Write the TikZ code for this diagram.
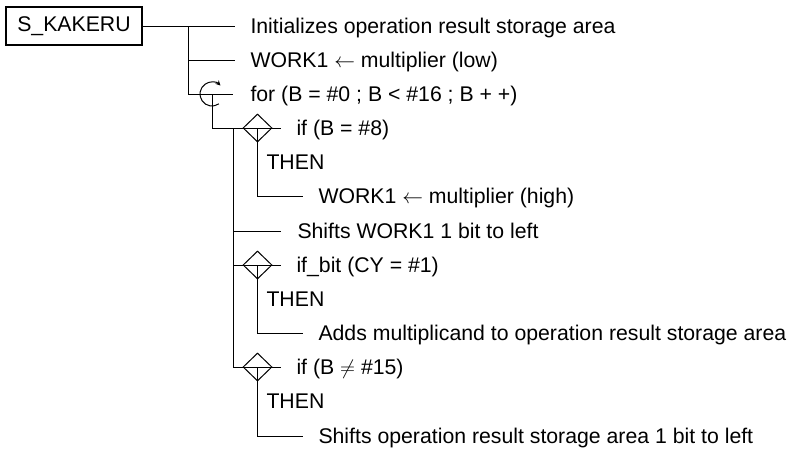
\documentclass[tikz,border=0pt]{standalone}
\usepackage{fontspec}
\setmainfont{Liberation Sans}
\usetikzlibrary{shapes.geometric,arrows.meta,calc}
\begin{document}
\begin{tikzpicture}[x=1pt,y=-1pt,line width=1pt,
  txt/.style={anchor=west,inner sep=0pt,text height=15pt,text depth=0pt,font=\fontsize{21.25}{25}\selectfont},
  decision/.style={draw,diamond,inner sep=0pt,minimum width=29pt,minimum height=28pt},
  rootbox/.style={draw,line width=2pt,minimum width=136pt,minimum height=38pt,inner sep=0pt,font=\fontsize{21.25}{25}\selectfont}]
\useasboundingbox (0,0) rectangle (791,450);
% root
\node[rootbox] (root) at (74,26) {S\_KAKERU};
% level 1 coordinates
\coordinate (j0) at (188,26);
\coordinate (j1) at (188,60);
\coordinate (e1) at (235,26);
\coordinate (e2) at (235,60);
\coordinate (e3) at (233,94);
\coordinate (lc) at (212,94);
\draw (root) -- (e1);
\draw (j0) |- (e3);
\draw (j1) -- (e2);
% loop symbol
\draw[-{Stealth[length=5pt,width=5pt]}] ($(lc)+(55:12)$) arc[start angle=55,end angle=315,radius=12];
% level 2
\coordinate (e4) at (281,128);
\coordinate (k0) at (233,128);
\coordinate (e7) at (281,231);
\coordinate (k7) at (233,231);
\coordinate (e8) at (281,265);
\coordinate (k8) at (233,265);
\coordinate (e11) at (281,367);
\draw (lc) |- (e4);
\draw (k0) |- (e11);
\draw (k7) -- (e7);
\draw (k8) -- (e8);
\node[decision] (d1) at (257.5,128) {};
\node[decision] (d2) at (257.5,265) {};
\node[decision] (d3) at (257.5,367) {};
% level 3
\coordinate (e6) at (303,196);
\coordinate (e10) at (303,333);
\coordinate (e13) at (303,436);
\draw (d1.center) |- (e6);
\draw (d2.center) |- (e10);
\draw (d3.center) |- (e13);
% texts
\node[txt] (t1) at (250,26) {Initializes operation result storage area};
\node[txt] (t2) at (250,60) {WORK1 $\leftarrow$ multiplier (low)};
\node[txt] (t3) at (250,94) {for (B = \#0 ; B < \#16 ; B + +)};
\node[txt] (t4) at (296,128) {if (B = \#8)};
\node[txt] (t5) at (266,162) {THEN};
\node[txt] (t6) at (318,196) {WORK1 $\leftarrow$ multiplier (high)};
\node[txt] (t7) at (297,231) {Shifts WORK1 1 bit to left};
\node[txt] (t8) at (296,265) {if\_bit (CY = \#1)};
\node[txt] (t9) at (266,299) {THEN};
\node[txt] (t10) at (318,333) {Adds multiplicand to operation result storage area};
\node[txt] (t11) at (296,367) {if (B $\neq$ \#15)};
\node[txt] (t12) at (266,401) {THEN};
\node[txt] (t13) at (318,436) {Shifts operation result storage area 1 bit to left};
\end{tikzpicture}
\end{document}
